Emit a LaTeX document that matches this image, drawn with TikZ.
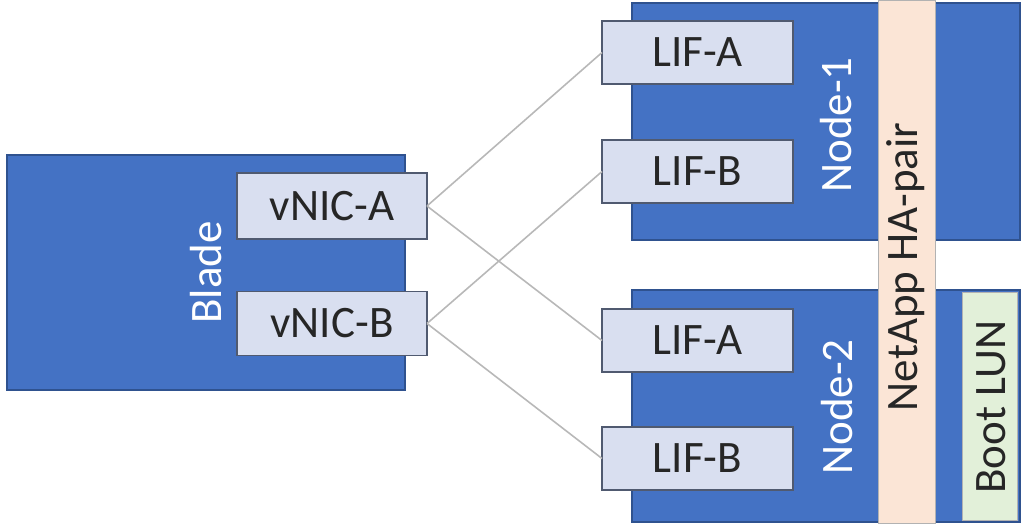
\documentclass[tikz,border=0pt]{standalone}
\usepackage{fontspec}
\setmainfont{Carlito}
\definecolor{nblue}{HTML}{4472C4}
\definecolor{nborder}{HTML}{2F528F}
\definecolor{lifill}{HTML}{D9DFF0}
\definecolor{liedge}{HTML}{505A70}
\definecolor{peach}{HTML}{FBE5D6}
\definecolor{lgreen}{HTML}{E2F0D9}
\definecolor{wire}{HTML}{B8B8B8}
\definecolor{txt}{HTML}{262626}
\begin{document}
\begin{tikzpicture}[x=1pt,y=-1pt,
  every node/.style={inner sep=0pt,outer sep=0pt,font=\fontsize{45}{45}\selectfont},
  bluebox/.style={rectangle,fill=nblue,draw=nborder,line width=1.2pt},
  lifbox/.style={rectangle,fill=lifill,draw=liedge,line width=1.8pt,text=txt,minimum width=191pt,minimum height=63pt},
  strip/.style={rectangle,draw=gray!60,line width=1pt},
  wlabel/.style={rotate=90,text=white},
  blabel/.style={rotate=90,text=txt},
  wirestyle/.style={draw=wire,line width=1.6pt}]
\useasboundingbox (0,0) rectangle (1022,524);
% back boxes
\node[bluebox,minimum width=398pt,minimum height=235pt] (blade) at (206,272.5) {};
\node[bluebox,minimum width=388pt,minimum height=237pt] (node1) at (826,121.5) {};
\node[bluebox,minimum width=388pt,minimum height=232pt] (node2) at (826,406) {};
\node[strip,fill=peach,minimum width=57pt,minimum height=522pt] (ha) at (906.5,262) {};
\node[strip,fill=lgreen,minimum width=55pt,minimum height=228pt] (lun) at (990,406) {};
% interface boxes
\node[lifbox,minimum width=190pt,minimum height=66pt] (vnica) at (332,206) {vNIC-A};
\node[lifbox,minimum width=190pt,minimum height=64pt] (vnicb) at (332,323.5) {vNIC-B};
\node[lifbox] (lifa1) at (697.5,52.5) {LIF-A};
\node[lifbox] (lifb1) at (697.5,171.5) {LIF-B};
\node[lifbox] (lifa2) at (697.5,340.5) {LIF-A};
\node[lifbox] (lifb2) at (697.5,458.5) {LIF-B};
% wires
\draw[wirestyle] (vnica.east) -- (lifa1.west);
\draw[wirestyle] (vnica.east) -- (lifa2.west);
\draw[wirestyle] (vnicb.east) -- (lifb1.west);
\draw[wirestyle] (vnicb.east) -- (lifb2.west);
% labels
\node[wlabel] (bladelbl) at (blade.center) {Blade};
\node[wlabel] (n1lbl) at (836,125) {Node-1};
\node[wlabel] (n2lbl) at (837,407) {Node-2};
\node[blabel] (halbl) at (906,267) {NetApp HA-pair};
\node[blabel] (lunlbl) at (991,407) {Boot LUN};
\end{tikzpicture}
\end{document}
